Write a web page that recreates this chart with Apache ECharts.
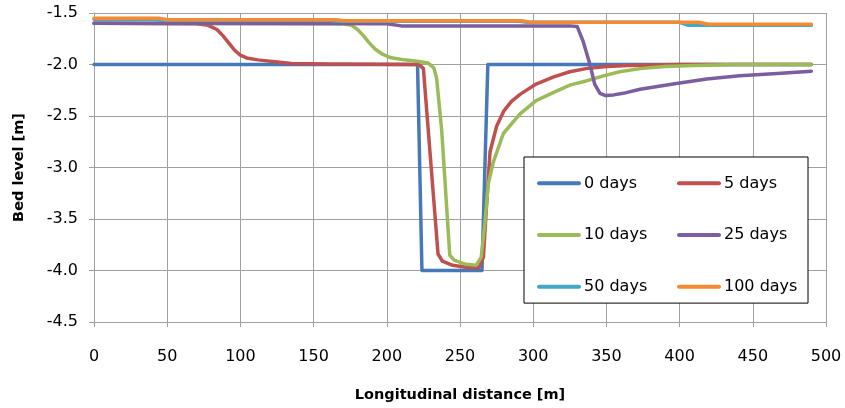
<!DOCTYPE html>
<html>
<head>
<meta charset="utf-8">
<script src="https://cdn.jsdelivr.net/npm/echarts@6/dist/echarts.min.js"></script>
<style>
html,body{margin:0;padding:0;background:#fff;}
#chart{width:845px;height:408px;}
</style>
</head>
<body>
<div id="chart"></div>
<script>
// Series names
const seriesNames = ['0 days', '5 days', '10 days', '25 days', '50 days', '100 days'];
// Axis ticks
const xTicks = [0, 50, 100, 150, 200, 250, 300, 350, 400, 450, 500];
const yTicks = [-1.5, -2.0, -2.5, -3.0, -3.5, -4.0, -4.5];

// [distance (m), bed level (m)]
const days0 = [[0,-2.0],[221,-2.0],[224,-4.0],[265,-4.0],[269,-2.0],[490,-2.0]];
const days5 = [[0,-1.6],[70,-1.605],[78,-1.62],[84,-1.66],[88,-1.72],[92,-1.79],[96,-1.86],[100,-1.91],[105,-1.94],[112,-1.955],[125,-1.975],[135,-1.99],[160,-1.995],[222,-2.0],[225,-2.04],[235,-3.84],[238,-3.91],[245,-3.95],[255,-3.97],[263,-3.97],[266,-3.87],[268,-3.4],[270.5,-2.85],[275,-2.6],[280,-2.45],[285,-2.36],[291,-2.29],[302,-2.19],[314,-2.12],[325,-2.07],[336,-2.04],[350,-2.02],[365,-2.01],[400,-2.0],[490,-2.0]];
const days10 = [[0,-1.6],[170,-1.605],[176,-1.62],[180,-1.66],[184,-1.72],[188,-1.79],[192,-1.85],[197,-1.9],[203,-1.935],[212,-1.955],[222,-1.97],[228,-1.985],[232,-2.03],[234,-2.13],[237.5,-2.64],[243,-3.85],[246,-3.9],[254,-3.94],[261,-3.95],[264.5,-3.87],[267,-3.54],[269.3,-3.16],[272.7,-2.95],[279.6,-2.67],[291,-2.48],[302,-2.35],[314,-2.27],[325,-2.2],[336,-2.16],[348,-2.11],[359,-2.07],[373,-2.04],[390,-2.02],[410,-2.01],[440,-2.0],[490,-2.0]];
const days25 = [[0,-1.6],[200,-1.605],[210,-1.625],[325,-1.625],[330,-1.63],[334,-1.77],[338.8,-2.0],[342,-2.19],[345.6,-2.28],[349,-2.3],[355,-2.295],[361.5,-2.28],[373,-2.24],[395.6,-2.19],[418.5,-2.14],[441,-2.11],[464,-2.09],[490,-2.065]];
const days50 = [[0,-1.56],[40,-1.56],[46,-1.57],[160,-1.57],[166,-1.58],[290,-1.58],[296,-1.59],[400,-1.59],[406,-1.62],[490,-1.62]];
const days100 = [[0,-1.55],[44,-1.55],[50,-1.565],[165,-1.565],[171,-1.575],[292,-1.575],[298,-1.59],[413,-1.59],[420,-1.61],[490,-1.61]];

const seriesData = [days0, days5, days10, days25, days50, days100];
const colors = ['#4579B8', '#C0504D', '#9BBB59', '#7B5EA0', '#43A8C4', '#F28B33'];

const FONT = 'DejaVu Sans';
const chart = echarts.init(document.getElementById('chart'), null, {renderer: 'canvas'});
chart.setOption({
  animation: false,
  backgroundColor: '#ffffff',
  color: colors,
  grid: {left: 94, right: 19, top: 13, bottom: 86, containLabel: false},
  legend: {
    data: seriesNames,
    left: 524, top: 157,
    width: 262,
    orient: 'horizontal',
    padding: [10, 10, 0, 13],
    itemGap: 19,
    itemWidth: 40,
    itemHeight: 32.7,
    borderColor: '#000000',
    borderWidth: 1,
    backgroundColor: '#ffffff',
    itemStyle: {opacity: 0},
    lineStyle: {width: 4, cap: 'round'},
    textStyle: {fontFamily: FONT, fontSize: 16, color: '#000', width: 74, lineHeight: 32.7}
  },
  xAxis: {
    type: 'value',
    min: 0, max: 500, interval: 50,
    name: 'Longitudinal distance [m]',
    nameLocation: 'middle',
    nameGap: 66,
    nameTextStyle: {fontFamily: FONT, fontSize: 14.5, fontWeight: 'bold', color: '#000'},
    axisLine: {show: true, lineStyle: {color: '#a0a0a0', width: 1}},
    axisTick: {show: true, length: 5, lineStyle: {color: '#a0a0a0'}},
    axisLabel: {fontFamily: FONT, fontSize: 16, color: '#000', margin: 27,
      formatter: v => xTicks.includes(v) ? String(v) : ''},
    splitLine: {show: true, lineStyle: {color: '#a0a0a0', width: 1}}
  },
  yAxis: {
    type: 'value',
    min: -4.5, max: -1.5, interval: 0.5,
    name: 'Bed level [m]',
    nameLocation: 'middle',
    nameGap: 67,
    nameTextStyle: {fontFamily: FONT, fontSize: 14.5, fontWeight: 'bold', color: '#000'},
    axisLine: {show: true, lineStyle: {color: '#a0a0a0', width: 1}},
    axisTick: {show: true, length: 5, lineStyle: {color: '#a0a0a0'}},
    axisLabel: {fontFamily: FONT, fontSize: 16, color: '#000', margin: 16,
      formatter: v => { const t = yTicks.find(k => Math.abs(k - v) < 1e-9); return t === undefined ? '' : t.toFixed(1); }},
    splitLine: {show: true, lineStyle: {color: '#a0a0a0', width: 1}}
  },
  series: seriesNames.map((name, i) => ({
    name: name,
    type: 'line',
    data: seriesData[i],
    showSymbol: false,
    symbol: 'none',
    smooth: false,
    lineStyle: {width: 3.5, color: colors[i], cap: 'round', join: 'round'},
    itemStyle: {color: colors[i]},
    z: 2 + i
  }))
});
</script>
</body>
</html>
